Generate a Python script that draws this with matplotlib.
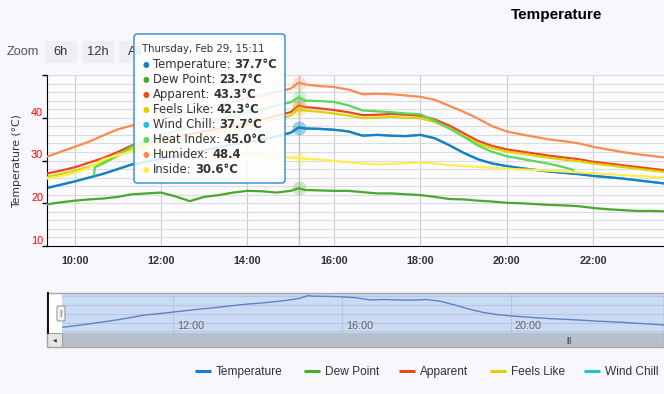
import matplotlib
matplotlib.use('Agg')
import matplotlib.pyplot as plt
from matplotlib.patches import Rectangle, FancyBboxPatch
from matplotlib.text import Annotation
from matplotlib.transforms import IdentityTransform
from matplotlib.ticker import MultipleLocator, FixedLocator

plt.rcParams['font.family'] = ['Liberation Sans', 'DejaVu Sans']

# times of the readings (Thu Feb 29)
times = ['09:20', '09:40', '10:00', '10:20', '10:40', '11:00', '11:20', '11:40',
         '12:00', '12:20', '12:40', '13:00', '13:20', '13:40', '14:00', '14:20',
         '14:40', '15:00', '15:11', '15:20', '15:40', '16:00', '16:20', '16:40',
         '17:00', '17:20', '17:40', '18:00', '18:20', '18:40', '19:00', '19:20',
         '19:40', '20:00', '20:20', '20:40', '21:00', '21:20', '21:40', '22:00',
         '22:20', '22:40', '23:00', '23:20', '23:40']

temperature = [23.5, 24.3, 25.1, 26.0, 26.9, 28.0, 29.1, 29.7, 30.4, 31.1, 31.8, 32.4,
               33.1, 33.8, 34.3, 34.9, 35.6, 36.5, 37.7, 37.5, 37.4, 37.2, 36.8, 35.8,
               36.0, 35.8, 35.7, 36.0, 35.2, 33.6, 31.8, 30.3, 29.3, 28.7, 28.2, 27.8,
               27.4, 27.1, 26.8, 26.4, 26.1, 25.8, 25.4, 25.0, 24.6]
dew_point = [19.7, 20.2, 20.6, 20.9, 21.1, 21.5, 22.1, 22.3, 22.5, 21.6, 20.5, 21.5,
             21.9, 22.5, 22.9, 22.8, 22.5, 22.9, 23.5, 23.1, 23.0, 22.9, 22.9, 22.6,
             22.3, 22.3, 22.1, 21.9, 21.5, 21.0, 20.9, 20.6, 20.4, 20.1, 20.0, 19.8,
             19.6, 19.5, 19.3, 18.9, 18.6, 18.4, 18.2, 18.2, 18.1]
apparent = [26.9, 27.6, 28.4, 29.5, 30.6, 32.0, 33.6, 34.3, 34.9, 35.5, 36.2, 36.8,
            37.4, 38.1, 38.8, 39.5, 40.5, 41.3, 42.9, 42.5, 42.2, 41.8, 41.3, 40.6,
            40.7, 40.9, 40.7, 40.5, 39.6, 38.2, 36.4, 34.6, 33.4, 32.6, 32.1, 31.6,
            31.1, 30.7, 30.3, 29.7, 29.3, 28.9, 28.5, 28.1, 27.7]
feels_like = [26.1, 26.8, 27.6, 28.6, 29.7, 31.0, 32.8, 33.6, 34.2, 34.8, 35.4, 36.0,
              36.6, 37.3, 38.0, 38.7, 39.7, 40.5, 42.0, 41.7, 41.4, 41.0, 40.5, 39.9,
              40.0, 40.2, 40.0, 39.9, 39.0, 37.6, 35.8, 34.0, 32.9, 32.1, 31.6, 31.1,
              30.6, 30.2, 29.8, 29.3, 28.9, 28.5, 28.1, 27.7, 27.3]
# wind chill reads the same as the temperature all day
wind_chill = list(temperature)
humidex = [30.8, 32.0, 33.2, 34.4, 35.9, 37.3, 38.2, 39.0, 39.8, 40.6, 41.5, 42.3,
           43.0, 43.7, 44.5, 45.2, 46.0, 46.8, 48.2, 47.8, 47.4, 47.2, 46.6, 45.5,
           45.6, 45.5, 45.2, 44.9, 44.2, 42.8, 41.4, 39.8, 38.0, 36.8, 36.1, 35.5,
           34.9, 34.5, 34.0, 33.2, 32.6, 32.0, 31.5, 31.1, 30.7]
inside = [25.7, 26.3, 27.1, 28.3, 30.3, 31.2, 32.2, 32.4, 32.3, 32.1, 31.9, 31.7,
          31.6, 31.4, 31.3, 31.1, 30.9, 30.7, 30.6, 30.4, 30.2, 29.9, 29.6, 29.3,
          29.1, 29.2, 29.4, 29.5, 29.3, 28.9, 28.7, 28.5, 28.3, 28.1, 27.9, 27.8,
          27.6, 27.4, 27.2, 27.0, 26.8, 26.6, 26.4, 26.2, 26.0]

# heat index only exists while it is hot enough
hi_times = ['10:27', '10:28', '10:40', '11:00', '11:20', '11:40', '12:00', '12:20',
            '12:40', '13:00', '13:20', '13:40', '14:00', '14:20', '14:40', '15:00',
            '15:11', '15:20', '15:40', '16:00', '16:20', '16:40', '17:00', '17:20',
            '17:40', '18:00', '18:20', '18:40', '19:00', '19:20', '19:40', '20:00',
            '20:20', '20:40', '21:00', '21:20', '21:32']
heat_index = [26.7, 28.4, 29.3, 31.2, 33.4, 34.8, 35.9, 36.8, 37.8, 38.7, 39.6, 40.5,
              41.2, 42.0, 42.9, 43.6, 44.8, 44.0, 43.9, 43.7, 42.9, 41.7, 41.5, 41.3,
              41.0, 40.8, 39.3, 37.5, 35.6, 33.5, 32.0, 31.0, 30.4, 29.8, 29.2, 28.4,
              27.8]

series_names = ['Temperature', 'Dew Point', 'Apparent', 'Feels Like', 'Wind Chill',
                'Heat Index', 'Humidex', 'Inside']
colors = ['#1a7ec4', '#48a92a', '#f0461f', '#d8d400', '#22c0e0', '#5ad85a', '#ff8a4f', '#ffec50']
tooltip_time = 'Thursday, Feb 29, 15:11'
tooltip_values = ['37.7°C', '23.7°C', '43.3°C', '42.3°C', '37.7°C', '45.0°C', '48.4', '30.6°C']
# only the first five legend entries fit in the picture (left edge of each swatch)
legend_x = [195, 304, 399, 490, 584]

x_ticks = [10, 12, 14, 16, 18, 20, 22]
nav_ticks = [12, 16, 20]


def to_hours(t):
    h, m = t.split(':')
    return int(h) + int(m) / 60.0


hours = [to_hours(t) for t in times]
hi_hours = [to_hours(t) for t in hi_times]
cross = to_hours(tooltip_time.split(', ')[-1])

W, H = 664, 394


def fx(px):
    return px / W


def fy(py):
    return 1 - py / H


def box_px(x0, y0, x1, y1, **kw):
    r = Rectangle((x0, H - y1), x1 - x0, y1 - y0, transform=IdentityTransform(), **kw)
    fig.add_artist(r)
    return r


fig = plt.figure(figsize=(W / 100, H / 100), dpi=100)
fig.set_facecolor('#f7f7fc')

# ---- main chart
ax = fig.add_axes([fx(47), fy(246), fx(664) - fx(47), (246 - 75) / H])
ax.set_facecolor('#fbfbfe')

all_data = [temperature, dew_point, apparent, feels_like, wind_chill, heat_index, humidex, inside]
lines = []
for i, (name, vals, col) in enumerate(zip(series_names, all_data, colors)):
    xs = hi_hours if name == 'Heat Index' else hours
    z = 2 + i
    if name == 'Wind Chill':
        z = 1.5
    ln, = ax.plot(xs, vals, color=col, lw=1.6, label=name, zorder=z, solid_joinstyle='round')
    lines.append(ln)
    # hover halo at the crosshair
    k = xs.index(cross)
    ax.plot(xs[k], vals[k], 'o', ms=10, color=col, alpha=0.25, mec='none', zorder=z)

ax.axvline(cross, color='#c4c4c4', lw=1, zorder=1.2)

ax.set_xlim(9.36, 23.64)
ax.set_ylim(10, 50)
ax.xaxis.set_major_locator(FixedLocator(x_ticks))
ax.set_xticklabels(['%d:00' % t for t in x_ticks])
ax.yaxis.set_major_locator(MultipleLocator(10))
ax.yaxis.set_minor_locator(MultipleLocator(2))
ax.grid(axis='x', which='major', color='#cdcdcd', lw=0.8, zorder=0)
ax.grid(axis='y', which='both', color='#dcdcdc', lw=0.8, zorder=0)
ax.set_axisbelow(True)
ax.tick_params(axis='x', length=0, pad=7, labelsize=7.8, labelcolor='#333333')
for lab in ax.get_xticklabels():
    lab.set_fontweight('bold')
ax.tick_params(axis='y', which='major', length=3.6, width=1, color='black', direction='out', labelleft=False)
ax.tick_params(axis='y', which='minor', length=0)
for s in ['top', 'right']:
    ax.spines[s].set_visible(False)
ax.spines['left'].set_color('black')
ax.spines['bottom'].set_color('black')
for v in [10, 20, 30, 40]:
    ax.annotate(str(v), xy=(0, v), xycoords=('axes fraction', 'data'), xytext=(-4, 2),
                textcoords='offset pixels', ha='right', va='baseline', color='red', fontsize=7.8)

fig.text(fx(17.5), fy(160.7), 'Temperature (°C)', rotation=90, ha='center', va='center',
         fontsize=7.8, color='#333333', family='DejaVu Sans')
fig.text(fx(557), fy(18.5), 'Temperature', ha='center', va='baseline', fontsize=11,
         fontweight='bold', color='black')

# ---- range selector buttons
fig.text(fx(7), fy(52), 'Zoom', ha='left', va='center', fontsize=9.2, color='#555555')
for lbl, x0 in [('6h', 45), ('12h', 82), ('All', 119)]:
    box_px(x0, 41, x0 + 32, 63, fc='#efeff3', ec='none', zorder=2)
    fig.text(fx(x0 + 16), fy(52), lbl, ha='center', va='center', fontsize=9.3,
             color='#333333', zorder=3)

# ---- tooltip
tip = FancyBboxPatch((134, H - 183), 151, 149, boxstyle='round,pad=0,rounding_size=3',
                     transform=IdentityTransform(), fc=(1, 1, 1, 0.86), ec='#2a8ad0', lw=1, zorder=5)
fig.add_artist(tip)
fig.text(fx(142), fy(49.5), tooltip_time, ha='left', va='center', fontsize=7.3,
         color='#333333', family='DejaVu Sans', zorder=6)
for i, (name, col, val) in enumerate(zip(series_names, colors, tooltip_values)):
    yy = 64.5 + 15 * i
    fig.text(fx(145.5), fy(yy), '●', ha='center', va='center', fontsize=5.5, color=col,
             family='DejaVu Sans', zorder=6)
    t = fig.text(fx(153), fy(yy), name + ':', ha='left', va='center', fontsize=8.4,
                 color='#333333', family='DejaVu Sans', zorder=6)
    a = Annotation(val, xy=(1, 0), xycoords=t, xytext=(3.3, 0), textcoords='offset pixels',
                   ha='left', va='bottom', fontsize=8.4, fontweight='bold', color='#333333',
                   family='DejaVu Sans', zorder=6)
    fig.add_artist(a)

# ---- navigator
nav = fig.add_axes([fx(62), fy(333), fx(664) - fx(62), (333 - 293) / H])
nav.set_facecolor('#cbdbf3')
nav.plot(hours, temperature, color='#5f82c4', lw=1)
nav.set_xlim(9.36, 23.64)
nav.set_ylim(21.05, 38.9)
nav.xaxis.set_major_locator(FixedLocator(nav_ticks))
nav.yaxis.set_major_locator(FixedLocator([21.8, 25.7, 29.6, 33.5, 37.4]))
nav.grid(True, color='#b4c7e5', lw=0.8)
nav.set_axisbelow(True)
nav.tick_params(length=0, labelbottom=False, labelleft=False)
for s in nav.spines.values():
    s.set_visible(False)
for t in nav_ticks:
    nav.annotate('%d:00' % t, xy=(t, 0), xycoords=('data', 'axes fraction'), xytext=(4, 4),
                 textcoords='offset pixels', ha='left', va='baseline', fontsize=7.8, color='#666666')

box_px(47, 293, 62, 333, fc='white', ec='none', zorder=1)
box_px(62, 333, 664, 347, fc='#b7c0ca', ec='none', zorder=1)
box_px(47, 333, 62, 347, fc='#e6e6e6', ec='#a0a0a0', lw=0.8, zorder=2)
box_px(47, 293, 664, 347, fc='none', ec='#a6a6a6', lw=1, zorder=2)
fig.add_artist(plt.Line2D([47.5, 47.5], [H - 293, H - 333], transform=IdentityTransform(),
                          color='black', lw=1.3, zorder=3))
handle = FancyBboxPatch((57, H - 321), 8, 15, boxstyle='round,pad=0,rounding_size=1.5',
                        transform=IdentityTransform(), fc='#f2f2f2', ec='#999999', lw=0.8, zorder=3)
fig.add_artist(handle)
fig.text(fx(61), fy(313.5), '||', ha='center', va='center', fontsize=5, color='#888888', zorder=4)
fig.text(fx(54.5), fy(340), '◀', ha='center', va='center', fontsize=3.5, color='#333333',
         family='DejaVu Sans', zorder=4)
fig.text(fx(569), fy(340), '|||', ha='center', va='center', fontsize=5.5, color='#333333', zorder=4)

# ---- legend (one row, same baseline for every entry)
for x0, ln in zip(legend_x, lines):
    fig.add_artist(plt.Line2D([x0, x0 + 16], [H - 370.7, H - 370.7], transform=IdentityTransform(),
                              color=ln.get_color(), lw=2.2, solid_capstyle='butt'))
    fig.text(fx(x0 + 21), fy(374.8), ln.get_label(), ha='left', va='baseline',
             fontsize=8.6, color='#333333')

fig.savefig('out.png', dpi=100, facecolor=fig.get_facecolor())
